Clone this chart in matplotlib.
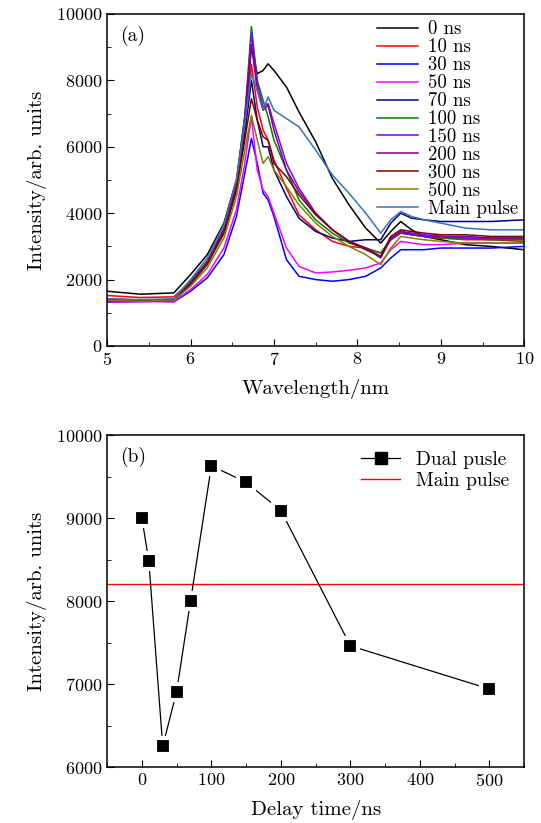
import numpy as np
import matplotlib
matplotlib.use("Agg")
import matplotlib.pyplot as plt
from matplotlib.ticker import MultipleLocator

plt.rcParams['font.family'] = ['cmr10', 'DejaVu Serif']
plt.rcParams['mathtext.fontset'] = 'cm'
plt.rcParams['axes.formatter.use_mathtext'] = True
plt.rcParams['font.size'] = 13

# --- (a) spectra ---
wavelength = [5.0, 5.4, 5.8, 6.0, 6.2, 6.4, 6.55, 6.65, 6.73, 6.8, 6.87, 6.93, 7.0, 7.15,
              7.3, 7.5, 7.7, 7.9, 8.1, 8.28, 8.4, 8.52, 8.65, 8.8, 9.0, 9.3, 9.6, 10.0]

ns0 = [1650, 1560, 1600, 2150, 2750, 3700, 5000, 6900, 9000, 8200, 8300, 8500, 8300, 7800,
       7050, 6150, 5050, 4250, 3550, 3100, 3450, 3750, 3500, 3300, 3200, 3050, 3000, 2900]
ns10 = [1520, 1460, 1480, 1950, 2550, 3450, 4800, 6600, 8480, 7200, 6500, 6200, 5600, 4750,
        3950, 3500, 3150, 3000, 2950, 2800, 3200, 3450, 3350, 3300, 3250, 3200, 3200, 3150]
ns30 = [1400, 1360, 1330, 1650, 2050, 2750, 3900, 5200, 6250, 5500, 4600, 4400, 3900, 2600,
        2100, 2000, 1950, 2000, 2100, 2350, 2650, 2900, 2900, 2900, 2950, 2950, 2950, 3000]
ns50 = [1320, 1330, 1340, 1700, 2150, 2950, 4100, 5500, 6900, 5300, 4700, 4500, 4000, 2950,
        2400, 2200, 2230, 2280, 2350, 2500, 2900, 3150, 3100, 3050, 3050, 3100, 3100, 3100]
ns70 = [1420, 1380, 1400, 1900, 2500, 3400, 4700, 6400, 8000, 6800, 6000, 6000, 5300, 4500,
        3850, 3450, 3250, 3150, 3200, 3200, 3700, 4000, 3850, 3800, 3750, 3750, 3750, 3800]
ns100 = [1400, 1370, 1380, 1950, 2550, 3550, 4900, 6900, 9620, 8000, 7400, 6900, 6200, 5300,
         4400, 3800, 3400, 3100, 2950, 2800, 3200, 3400, 3350, 3300, 3250, 3250, 3200, 3200]
ns150 = [1330, 1340, 1360, 1900, 2500, 3500, 4850, 6800, 9420, 7900, 7200, 7300, 6700, 5500,
         4750, 4000, 3500, 3150, 2950, 2700, 3200, 3400, 3350, 3300, 3300, 3250, 3250, 3250]
ns200 = [1350, 1350, 1370, 1900, 2500, 3500, 4800, 6700, 9080, 7700, 7100, 7250, 6500, 5300,
         4650, 4000, 3500, 3150, 2950, 2650, 3250, 3450, 3400, 3350, 3300, 3300, 3250, 3250]
ns300 = [1380, 1360, 1380, 1850, 2450, 3400, 4700, 6200, 7450, 6800, 6300, 6200, 5500, 5100,
         4550, 3950, 3500, 3150, 2900, 2700, 3300, 3500, 3450, 3400, 3350, 3350, 3300, 3300]
ns500 = [1370, 1350, 1370, 1800, 2350, 3250, 4500, 5900, 6950, 6200, 5500, 5700, 5300, 4800,
         4250, 3700, 3300, 3000, 2750, 2450, 2950, 3300, 3250, 3200, 3150, 3100, 3100, 3100]
main = [1420, 1400, 1420, 2000, 2650, 3650, 5000, 6700, 8200, 7700, 7100, 7500, 7100, 6850,
        6600, 5900, 5150, 4600, 4000, 3400, 3800, 4050, 3900, 3800, 3700, 3550, 3500, 3500]

labels_a = ['0 ns', '10 ns', '30 ns', '50 ns', '70 ns', '100 ns', '150 ns', '200 ns',
            '300 ns', '500 ns', 'Main pulse']
series_a = [ns0, ns10, ns30, ns50, ns70, ns100, ns150, ns200, ns300, ns500, main]
colors_a = ['black', '#ff0000', '#0000ff', '#ff00ff', '#000080', '#008000', '#8000ff',
            '#800080', '#800000', '#808000', '#3a74b0']

# --- (b) peak intensity vs delay ---
delay = [0, 10, 30, 50, 70, 100, 150, 200, 300, 500]
peak = [9000, 8480, 6250, 6910, 8000, 9630, 9430, 9090, 7460, 6940]
main_peak = 8200

fig = plt.figure(figsize=(5.41, 8.23), dpi=100)
ax1 = fig.add_axes([0.198, 0.5796, 0.771, 0.4034])
ax2 = fig.add_axes([0.198, 0.068, 0.771, 0.4034])

for y, c, lab in zip(series_a, colors_a, labels_a):
    ax1.plot(wavelength, y, color=c, lw=1.1, label=lab)
ax1.set_xlim(5, 10)
ax1.set_ylim(0, 10000)
ax1.xaxis.set_major_locator(MultipleLocator(1))
ax1.xaxis.set_minor_locator(MultipleLocator(0.5))
ax1.yaxis.set_major_locator(MultipleLocator(2000))
ax1.yaxis.set_minor_locator(MultipleLocator(1000))
ax1.set_xlabel('Wavelength/nm', fontsize=15, labelpad=8)
ax1.set_ylabel('Intensity/arb. units', fontsize=15, labelpad=6)
ax1.text(0.03, 0.965, '(a)', transform=ax1.transAxes, va='top', ha='left', fontsize=14)
ax1.legend(loc='upper right', frameon=False, handlelength=2.2, labelspacing=0.0,
           borderpad=0.1, borderaxespad=0.25, handletextpad=0.5, fontsize=13.5)

ax2.plot(delay, peak, color='black', lw=0.9, zorder=2)
ax2.plot(delay, peak, ls='none', marker='s', ms=11.5, mfc='black', mec='white', mew=3, zorder=3)
ax2.axhline(main_peak, color='#ff0000', lw=1.0, zorder=1)
ax2.set_xlim(-50, 550)
ax2.set_ylim(6000, 10000)
ax2.xaxis.set_major_locator(MultipleLocator(100))
ax2.xaxis.set_minor_locator(MultipleLocator(50))
ax2.yaxis.set_major_locator(MultipleLocator(1000))
ax2.yaxis.set_minor_locator(MultipleLocator(500))
ax2.set_xlabel('Delay time/ns', fontsize=15, labelpad=8)
ax2.set_ylabel('Intensity/arb. units', fontsize=15, labelpad=6)
ax2.text(0.03, 0.965, '(b)', transform=ax2.transAxes, va='top', ha='left', fontsize=14)
h_dual = plt.Line2D([], [], color='black', lw=0.9, marker='s', ms=9, mfc='black', mec='black')
h_main = plt.Line2D([], [], color='#ff0000', lw=1.0)
ax2.legend([h_dual, h_main], ['Dual pusle', 'Main pulse'], loc='upper right', frameon=False,
           handlelength=2.0, labelspacing=0.15, borderaxespad=0.4, fontsize=14)

for ax in (ax1, ax2):
    ax.tick_params(which='both', direction='in', top=False, right=False)
    ax.tick_params(which='major', length=5)
    ax.tick_params(which='minor', length=3)
    for s in ax.spines.values():
        s.set_linewidth(1.1)

fig.savefig('out.png', dpi=100)
